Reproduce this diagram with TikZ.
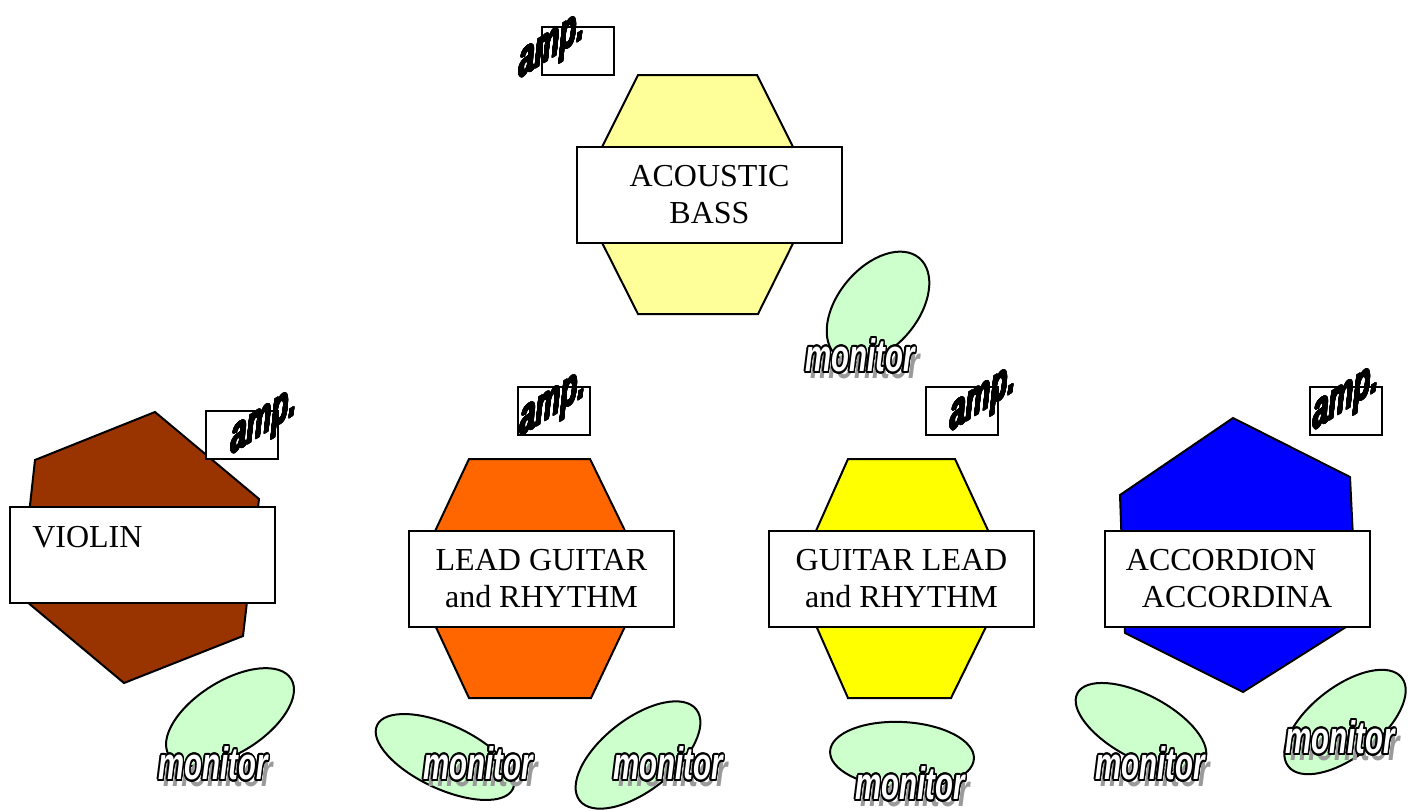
\documentclass[tikz,border=0pt]{standalone}
\usepackage{fontspec}
\setmainfont{Liberation Serif}
\newfontfamily\wafont{Liberation Sans}
\usepackage[copies]{contour}
\contournumber{24}
\definecolor{bassY}{HTML}{FFFF99}
\definecolor{violinB}{HTML}{993300}
\definecolor{leadO}{HTML}{FF6600}
\definecolor{guitY}{HTML}{FFFF00}
\definecolor{accB}{HTML}{0000FF}
\definecolor{monG}{HTML}{CCFFCC}
\definecolor{shad}{HTML}{9A9A9A}
\newcommand\montext{\contourlength{1.1pt}\makebox[0pt][l]{\hspace{4pt}\raisebox{-3.5pt}{\textcolor{shad}{monitor}}}\contour{black}{\textcolor{white}{monitor}}}
\newcommand\amptext{\contourlength{0.45pt}\contour{black}{amp.}}
\usetikzlibrary{shapes.geometric}
\tikzset{
  outl/.style={draw=black, line width=1.5pt, line join=miter},
  lbox/.style={draw=black, fill=white, line width=1.5pt, minimum width=198.75pt, minimum height=72pt, inner sep=0pt, align=center, font=\fontsize{24}{27.75}\selectfont},
  abox/.style={draw=black, fill=white, line width=1.5pt, minimum width=54pt, minimum height=36pt, inner sep=0pt},
  amptxt/.style={inner sep=0pt, font=\wafont\bfseries\itshape\fontsize{22}{22}\selectfont, cm={0.95,0.6,0,1.7,(0,0)}},
  mon/.style={ellipse, draw=black, fill=monG, line width=1.5pt, inner sep=0pt},
  montxt/.style={inner sep=0pt, yscale=1.55, font=\wafont\bfseries\itshape\fontsize{22}{22}\selectfont}
}
\begin{document}
\begin{tikzpicture}[x=0.75pt, y=-0.75pt]
\useasboundingbox (0,0) rectangle (1416,810);

% ---------- ACOUSTIC BASS ----------
\draw[outl, fill=bassY] (638,75) -- (757,75) -- (817,195) -- (758,314) -- (638,314) -- (578,195) -- cycle;
\node[lbox] (bass) at (709.5,195) {ACOUSTIC\\BASS};
\node[abox] (bassamp) at (577.5,51) {};
\node[amptxt] (bassampt) at (552,50) {\amptext};
\node[mon, minimum width=96pt, minimum height=60pt, rotate=50] (bassmon) at (878,307) {};
\node[montxt] (bassmont) at (860,359) {\montext};

% ---------- VIOLIN ----------
\draw[outl, fill=violinB] (155,412) -- (259,499) -- (243,636) -- (124,683) -- (20,596) -- (35,460) -- cycle;
\node[lbox] (violin) at (142,555) {};
\node[anchor=west, inner sep=0pt, font=\fontsize{24}{27.75}\selectfont] (violint) at (32,537) {VIOLIN};
\node[abox] (violinamp) at (242,435) {};
\node[amptxt] (violinampt) at (264,426) {\amptext};
\node[mon, minimum width=108pt, minimum height=54pt, rotate=32] (violinmon) at (230,717) {};
\node[montxt] (violinmont) at (213,767) {\montext};

% ---------- LEAD GUITAR ----------
\draw[outl, fill=leadO] (469,459) -- (590,459) -- (648,578) -- (591,698) -- (469,698) -- (413,578) -- cycle;
\node[lbox] (lead) at (541.5,579) {LEAD GUITAR\\and RHYTHM};
\node[abox] (leadamp) at (554,411) {};
\node[amptxt] (leadampt) at (553,408) {\amptext};
\node[mon, minimum width=112.5pt, minimum height=48pt, rotate=-25] (leadmonA) at (445,757) {};
\node[montxt] (leadmonAt) at (478,767) {\montext};
\node[mon, minimum width=111pt, minimum height=54pt, rotate=38] (leadmonB) at (638,755) {};
\node[montxt] (leadmonBt) at (668,767) {\montext};

% ---------- GUITAR LEAD ----------
\draw[outl, fill=guitY] (848,459) -- (955,459) -- (1010,578) -- (951,698) -- (848,698) -- (795,578) -- cycle;
\node[lbox] (guit) at (901.5,579) {GUITAR LEAD\\and RHYTHM};
\node[abox] (guitamp) at (962,411) {};
\node[amptxt] (guitampt) at (983,403) {\amptext};
\node[mon, minimum width=108pt, minimum height=49.5pt, rotate=-3] (guitmon) at (902,755) {};
\node[montxt] (guitmont) at (910,787) {\montext};

% ---------- ACCORDION ----------
\draw[outl, fill=accB] (1233,418) -- (1350,477) -- (1357,620) -- (1243,692) -- (1125,633) -- (1120,495) -- cycle;
\node[lbox] (acc) at (1237,579) {ACCORDION\makebox[1em]{}\\ACCORDINA};
\node[abox] (accamp) at (1346,411) {};
\node[amptxt] (accampt) at (1346,402) {\amptext};
\node[mon, minimum width=108pt, minimum height=48pt, rotate=-28] (accmonA) at (1141,727) {};
\node[montxt] (accmonAt) at (1150,767) {\montext};
\node[mon, minimum width=108pt, minimum height=52.5pt, rotate=38] (accmonB) at (1345,722) {};
\node[montxt] (accmonBt) at (1340,741) {\montext};
\end{tikzpicture}
\end{document}
